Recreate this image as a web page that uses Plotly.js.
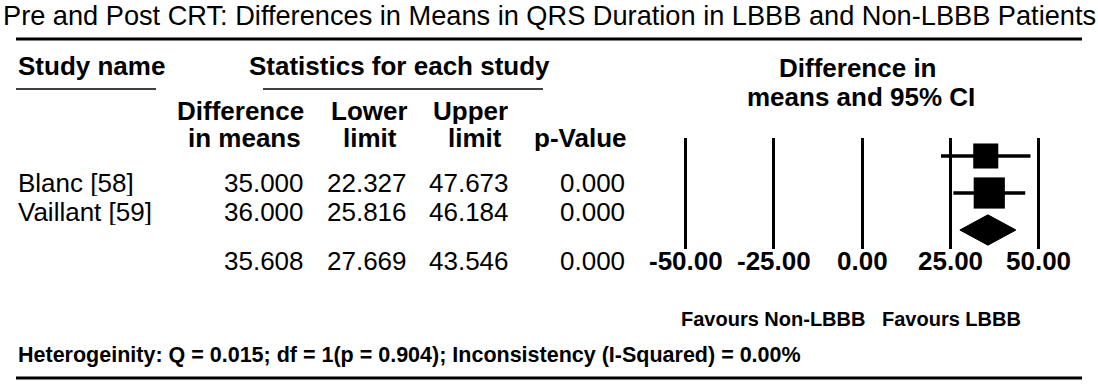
<!DOCTYPE html>
<html>
<head>
<meta charset="utf-8">
<script src="https://cdn.plot.ly/plotly-3.0.1.min.js"></script>
<style>html,body{margin:0;padding:0;background:#fff;}#chart{width:1098px;height:389px;}</style>
</head>
<body>
<div id="chart"></div>
<script>
// ---- data ----
const titleText = "Pre and Post CRT: Differences in Means in QRS Duration in LBBB and Non-LBBB Patients";
const studies = ["Blanc [58]", "Vaillant [59]"];
const diffMeans = [35.000, 36.000];
const lowerLimits = [22.327, 25.816];
const upperLimits = [47.673, 46.184];
const pValues = [0.000, 0.000];
const weights = [39.2, 60.8];
const summaryDiff = 35.608;
const summaryLower = 27.669;
const summaryUpper = 43.546;
const summaryP = 0.000;
const tickValues = [-50, -25, 0, 25, 50];
const tickLabels = ["-50.00", "-25.00", "0.00", "25.00", "50.00"];
const heterogeneityText = "Heterogeinity: Q = 0.015; df = 1(p = 0.904); Inconsistency (I-Squared) = 0.00%";
const favoursLeft = "Favours Non-LBBB";
const favoursRight = "Favours LBBB";

// ---- layout helpers ----
const W = 1098, H = 389;
const px = x => x / W;
const py = y => 1 - y / H;
const FONT = "Liberation Sans, Arial, sans-serif";
const annotations = [];
function txt(text, x, y, opts) {
  opts = opts || {};
  const a = {
    text: text, xref: opts.xref || "paper", yref: "paper",
    x: opts.xref ? x : px(x), y: py(y),
    xanchor: opts.xanchor || "left", yanchor: "middle", showarrow: false,
    align: opts.align || "left", valign: "middle",
    font: {family: FONT, size: opts.size || 26, color: "#000", weight: opts.bold ? 700 : 400}
  };
  if (opts.height) a.height = opts.height;
  annotations.push(a);
}

// title
txt(titleText, 1, 15, {size: 27.2});
// headers
txt("Study name", 16, 66, {bold: true});
txt("Statistics for each study", 247, 66, {bold: true});
txt("Difference in", 858, 68, {bold: true, xanchor: "center", height: 26});
txt("means and 95% CI", 861, 97, {bold: true, xanchor: "center", height: 26});
txt("Difference", 240, 111, {bold: true, xanchor: "center", height: 26});
txt("in means", 244, 138, {bold: true, xanchor: "center", height: 26});
txt("Lower", 369, 111, {bold: true, xanchor: "center", height: 26});
txt("limit", 370, 138, {bold: true, xanchor: "center", height: 26});
txt("Upper", 470, 111, {bold: true, xanchor: "center", height: 26});
txt("limit", 475, 138, {bold: true, xanchor: "center", height: 26});
txt("p-Value", 628, 138, {bold: true, xanchor: "right", height: 26});

// table rows
const rowY = [183, 212];
const f3 = v => v.toFixed(3);
studies.forEach((s, i) => {
  txt(s, 16, rowY[i], {height: 26});
  txt(f3(diffMeans[i]), 306, rowY[i], {xanchor: "right", height: 26});
  txt(f3(lowerLimits[i]), 409, rowY[i], {xanchor: "right", height: 26});
  txt(f3(upperLimits[i]), 511, rowY[i], {xanchor: "right", height: 26});
  txt(f3(pValues[i]), 627, rowY[i], {xanchor: "right", height: 26});
});
const sumY = 261;
txt(f3(summaryDiff), 306, sumY, {xanchor: "right"});
txt(f3(summaryLower), 409, sumY, {xanchor: "right"});
txt(f3(summaryUpper), 511, sumY, {xanchor: "right"});
txt(f3(summaryP), 627, sumY, {xanchor: "right"});

// axis tick labels placed through the x axis scale
tickValues.forEach((v, i) => txt(tickLabels[i], v, 261, {xref: "x", xanchor: "center", bold: true}));

txt(favoursLeft, 867, 319, {bold: true, xanchor: "right", size: 20});
txt(favoursRight, 880, 319, {bold: true, size: 20});
txt(heterogeneityText, 16, 355, {bold: true, size: 21.5});

const shapes = [
  {type: "line", xref: "paper", yref: "paper", x0: px(16), x1: px(1082), y0: py(39), y1: py(39), line: {color: "#000", width: 3}},
  {type: "line", xref: "paper", yref: "paper", x0: px(16), x1: px(156), y0: py(89), y1: py(89), line: {color: "#000", width: 1.5}},
  {type: "line", xref: "paper", yref: "paper", x0: px(263), x1: px(543), y0: py(89), y1: py(89), line: {color: "#000", width: 1.5}},
  {type: "line", xref: "paper", yref: "paper", x0: px(16), x1: px(1082), y0: py(378), y1: py(378), line: {color: "#000", width: 3}}
];

// ---- forest plot traces ----
const idx = studies.map((s, i) => i);
const studyTrace = {
  type: "scatter", mode: "markers", x: diffMeans, y: idx,
  marker: {symbol: "square", color: "#000", opacity: 1, size: weights.map(w => 4 * Math.sqrt(w)), line: {width: 0}},
  error_x: {type: "data", symmetric: false,
    array: upperLimits.map((u, i) => u - diffMeans[i]),
    arrayminus: lowerLimits.map((l, i) => diffMeans[i] - l),
    color: "#000", thickness: 3.5, width: 0},
  cliponaxis: false, hoverinfo: "skip"
};
const sIdx = studies.length;
const hd = 0.41;
const diamond = {
  type: "scatter", mode: "lines",
  x: [summaryLower, summaryDiff, summaryUpper, summaryDiff, summaryLower],
  y: [sIdx, sIdx - hd, sIdx, sIdx + hd, sIdx],
  fill: "toself", fillcolor: "#000", line: {color: "#000", width: 1},
  hoverinfo: "skip"
};

// x axis: -50 at 685.7px, 50 at 1038.7px
const pxPerUnit = (1038.7 - 685.7) / 100;
const zeroPx = 862.2;
const xr = [-60, 60];
const layout = {
  width: W, height: H, margin: {l: 0, r: 0, t: 0, b: 0},
  paper_bgcolor: "#fff", plot_bgcolor: "#fff", showlegend: false,
  xaxis: {
    range: xr, domain: [px(zeroPx + xr[0] * pxPerUnit), px(zeroPx + xr[1] * pxPerUnit)],
    tickvals: tickValues, showticklabels: false, ticks: "",
    showgrid: true, gridcolor: "#000", gridwidth: 3, zeroline: false, showline: false,
    fixedrange: true
  },
  yaxis: {
    range: [2.5, -0.5], domain: [py(248.5), py(137.5)],
    showgrid: false, zeroline: false, showticklabels: false, ticks: "", showline: false,
    fixedrange: true
  },
  annotations: annotations, shapes: shapes
};
Plotly.newPlot("chart", [studyTrace, diamond], layout, {staticPlot: true, displayModeBar: false});
</script>
</body>
</html>
